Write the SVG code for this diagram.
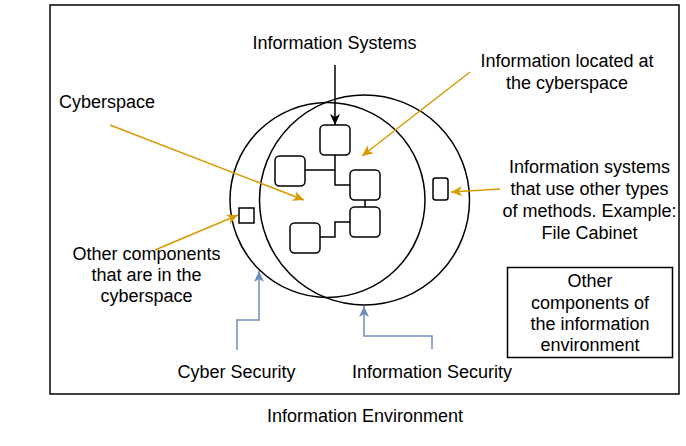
<svg xmlns="http://www.w3.org/2000/svg" width="686" height="446" viewBox="0 0 686 446">
<style>
text{font-family:"Liberation Sans",Arial,Helvetica,sans-serif;font-size:18px;fill:#000;text-anchor:middle}
.shape{fill:#fff;stroke:#000;stroke-width:1.5}
.circ{fill:none;stroke:#000;stroke-width:1.5}
.link{fill:none;stroke:#000;stroke-width:1.5}
.orange{fill:none;stroke:#d79b00;stroke-width:1.5}
.blue{fill:none;stroke:#6c8ebf;stroke-width:1.5}
.black{fill:none;stroke:#000;stroke-width:1.5}
</style>
<defs>
<marker id="ab" markerUnits="userSpaceOnUse" markerWidth="14" markerHeight="12" viewBox="-12 -6 14 12" refX="0" refY="0" orient="auto"><path d="M-11,-5 L0,0 L-11,5 L-8,0 Z" fill="#000"/></marker>
<marker id="ao" markerUnits="userSpaceOnUse" markerWidth="14" markerHeight="12" viewBox="-12 -6 14 12" refX="0" refY="0" orient="auto"><path d="M-11,-5 L0,0 L-11,5 L-8,0 Z" fill="#d79b00"/></marker>
<marker id="abl" markerUnits="userSpaceOnUse" markerWidth="14" markerHeight="12" viewBox="-12 -6 14 12" refX="0" refY="0" orient="auto"><path d="M-11,-5 L0,0 L-11,5 L-8,0 Z" fill="#6c8ebf"/></marker>
</defs>
<g id="information-environment">
<rect x="50" y="5" width="629" height="389" fill="#fff" stroke="#000" stroke-width="1.5"/>
<text x="365" y="422">Information Environment</text>
</g>
<g id="cyberspace-circle"><circle class="circ" cx="327.5" cy="200" r="97.5"/></g>
<g id="information-circle"><circle class="circ" cx="364.5" cy="200" r="105"/></g>
<g id="connectors">
<path class="link" d="M335,155 V185 H350"/>
<path class="link" d="M305,170 H335"/>
<path class="link" d="M365,200 V207"/>
<path class="link" d="M320,237 H335 V222 H350"/>
<path class="black" d="M335,65 V125" marker-end="url(#ab)"/>
<path class="orange" d="M470,72 L362,156" marker-end="url(#ao)"/>
<path class="orange" d="M110,125 L304,200" marker-end="url(#ao)"/>
<path class="orange" d="M155,250 L238,215" marker-end="url(#ao)"/>
<path class="orange" d="M500,189 L451,192" marker-end="url(#ao)"/>
<path class="blue" d="M237,350 V320 H259 V271" marker-end="url(#abl)"/>
<path class="blue" d="M432,349 V336 H364 V306" marker-end="url(#abl)"/>
</g>
<g id="is-top"><rect class="shape" x="320" y="125" width="30" height="30" rx="4.5"/></g>
<g id="is-left"><rect class="shape" x="275" y="156" width="30" height="30" rx="4.5"/></g>
<g id="is-right1"><rect class="shape" x="350" y="170" width="30" height="30" rx="4.5"/></g>
<g id="is-right2"><rect class="shape" x="350" y="207" width="30" height="30" rx="4.5"/></g>
<g id="is-bottom"><rect class="shape" x="290" y="223" width="30" height="30" rx="4.5"/></g>
<g id="cyber-component"><rect class="shape" x="239" y="208" width="15" height="15"/></g>
<g id="file-cabinet"><rect class="shape" x="433" y="178" width="15" height="22" rx="2.5"/></g>
<g id="label-information-systems"><text x="334.5" y="49">Information Systems</text></g>
<g id="label-cyberspace"><text x="107" y="108">Cyberspace</text></g>
<g id="label-info-located"><text x="567" y="67">Information located at</text><text x="567" y="89">the cyberspace</text></g>
<g id="label-other-systems"><text x="589.5" y="173">Information systems</text><text x="589.5" y="195">that use other types</text><text x="589.5" y="217">of methods. Example:</text><text x="589.5" y="239">File Cabinet</text></g>
<g id="label-other-cyber"><text x="146.5" y="260">Other components</text><text x="146.5" y="281">that are in the</text><text x="146.5" y="302">cyberspace</text></g>
<g id="label-cyber-security"><text x="236.5" y="378">Cyber Security</text></g>
<g id="label-information-security"><text x="432" y="378">Information Security</text></g>
<g id="other-components-box">
<rect class="shape" x="507.5" y="267.5" width="165" height="90"/>
<text x="590" y="287">Other</text><text x="590" y="308.5">components of</text><text x="590" y="330">the information</text><text x="590" y="351">environment</text>
</g>
</svg>
